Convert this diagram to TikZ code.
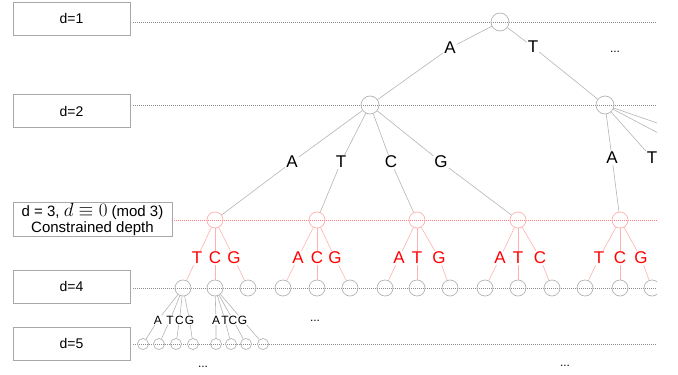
\documentclass[tikz,border=0pt]{standalone}
\usepackage{fix-cm}
\usepackage{fontspec}
\setmainfont{Liberation Sans}
\definecolor{boxgray}{HTML}{A8A8A8}
\definecolor{edgegray}{HTML}{B4B4B4}
\definecolor{dotgray}{HTML}{8C8C8C}
\definecolor{pinkline}{HTML}{FFB0B0}
\definecolor{reddot}{HTML}{FF7878}
\begin{document}
\begin{tikzpicture}[x=1pt,y=-1pt,
  lvlbox/.style={draw=boxgray, line width=0.7pt, minimum width=117pt, minimum height=33pt, inner sep=0pt, font=\fontsize{14}{16}\selectfont},
  depthline/.style={dotgray, line width=0.6pt, dash pattern=on 1pt off 1pt},
  redline/.style={reddot, line width=0.6pt, dash pattern=on 1pt off 1pt},
  tnode/.style={circle, draw=edgegray, line width=0.7pt, minimum size=#1, inner sep=0pt},
  rnode/.style={circle, draw=pinkline, line width=0.7pt, minimum size=16pt, inner sep=0pt},
  edge/.style={edgegray, line width=0.6pt},
  redge/.style={pinkline, line width=0.6pt},
  biglbl/.style={font=\fontsize{17}{17}\selectfont, inner sep=1pt},
  redlbl/.style={font=\fontsize{17}{17}\selectfont, inner sep=1pt, text=red},
  smalllbl/.style={font=\fontsize{12}{12}\selectfont, inner sep=0.3pt},
  dots/.style={font=\fontsize{12}{12}\selectfont, inner sep=0pt}
]
\useasboundingbox (0,0) rectangle (678,375);

% level boxes
\node[lvlbox] (b1) at (71.5,18.5) {d=1};
\node[lvlbox] (b2) at (71.5,111) {d=2};
\node[lvlbox, minimum width=159pt, minimum height=34pt, align=center, font=\fontsize{15}{16}\selectfont] (b3) at (92.5,219) {d = 3, {\fontsize{19}{19}\selectfont$d \equiv 0$} (mod 3)\\Constrained depth};
\node[lvlbox] (b4) at (71.5,286.5) {d=4};
\node[lvlbox] (b5) at (71.5,343.5) {d=5};

\coordinate (l1s) at (133,22);  \coordinate (l1e) at (657,22);
\coordinate (l2s) at (133,105); \coordinate (l2e) at (657,105);
\coordinate (l3s) at (174,220); \coordinate (l3e) at (657,220);
\coordinate (l4s) at (133,288); \coordinate (l4e) at (657,288);
\coordinate (l5s) at (133,344); \coordinate (l5e) at (657,344);
\draw[depthline] (l1s) -- (l1e);
\draw[depthline] (l2s) -- (l2e);
\draw[redline] (l3s) -- (l3e);
\draw[depthline] (l4s) -- (l4e);
\draw[depthline] (l5s) -- (l5e);

\begin{scope}
\clip (0,0) rectangle (657,375);
% level 1 and 2 nodes
\node[tnode=18pt] (r) at (500,22) {};
\node[tnode=18pt] (n1) at (370,105) {};
\node[tnode=18pt] (n2) at (605,105) {};
% level 3 nodes (constrained)
\node[rnode] (c1) at (215,220) {};
\node[rnode] (c2) at (317,220) {};
\node[rnode] (c3) at (417,220) {};
\node[rnode] (c4) at (518,220) {};
\node[rnode] (c5) at (620,220) {};
% level 4 nodes
\foreach \i/\x in {1/183,2/215,3/248,4/283,5/317,6/350,7/385,8/417,9/450,10/485,11/518,12/552,13/585,14/620,15/652}
  \node[tnode=16pt] (e\i) at (\x,288) {};
% level 5 nodes
\foreach \i/\x in {1/143,2/159,3/176,4/193,5/216,6/231,7/246,8/263}
  \node[tnode=11pt] (f\i) at (\x,344) {};

% root edges
\node[biglbl] (la) at (450,48) {A};
\node[biglbl] (lt) at (533,47) {T};
\draw[edge] (r) -- (la) -- (n1);
\draw[edge] (r) -- (lt) -- (n2);
\node[dots] (dd1) at (615,52) {...};

% level 2 edges
\node[biglbl] (m1) at (292,162) {A};
\node[biglbl] (m2) at (341,162) {T};
\node[biglbl] (m3) at (391,162) {C};
\node[biglbl] (m4) at (441,162) {G};
\draw[edge] (n1) -- (m1) -- (c1);
\draw[edge] (n1) -- (m2) -- (c2);
\draw[edge] (n1) -- (m3) -- (c3);
\draw[edge] (n1) -- (m4) -- (c4);
\node[biglbl] (m5) at (612,158) {A};
\node[biglbl] (m6) at (652,158) {T};
\draw[edge] (n2) -- (m5) -- (c5);
\draw[edge] (n2) -- (m6);
\coordinate (o1) at (660,124);
\coordinate (o2) at (660,134);
\draw[edge] (n2) -- (o1);
\draw[edge] (n2) -- (o2);

% level 3 -> level 4 (red)
\foreach \p/\a/\b/\c/\la/\lb/\lc/\xa/\xb/\xc in {
  1/1/2/3/T/C/G/197/215/234,
  2/4/5/6/A/C/G/298/317/335,
  3/7/8/9/A/T/G/399/417/439,
  4/10/11/12/A/T/C/500/518/540,
  5/13/14/15/T/C/G/599/620/641}{
  \node[redlbl] (q\p a) at (\xa,258) {\la};
  \node[redlbl] (q\p b) at (\xb,258) {\lb};
  \node[redlbl] (q\p c) at (\xc,258) {\lc};
  \draw[redge] (c\p) -- (q\p a) -- (e\a);
  \draw[redge] (c\p) -- (q\p b) -- (e\b);
  \draw[redge] (c\p) -- (q\p c) -- (e\c);
}

% level 4 -> level 5
\node[smalllbl] (s1) at (158,320) {A};
\node[smalllbl] (s2) at (170,320) {T};
\node[smalllbl] (s3) at (179.5,320) {C};
\node[smalllbl] (s4) at (189.5,320) {G};
\draw[edge] (e1) -- (s1) -- (f1);
\draw[edge] (e1) -- (s2) -- (f2);
\draw[edge] (e1) -- (s3) -- (f3);
\draw[edge] (e1) -- (s4) -- (f4);
\node[smalllbl] (s5) at (216,320) {A};
\node[smalllbl] (s6) at (225,320) {T};
\node[smalllbl] (s7) at (233,320) {C};
\node[smalllbl] (s8) at (242.5,320) {G};
\draw[edge] (e2) -- (s5) -- (f5);
\draw[edge] (e2) -- (s6) -- (f6);
\draw[edge] (e2) -- (s7) -- (f7);
\draw[edge] (e2) -- (s8) -- (f8);
\end{scope}

\node[dots] (dd2) at (315,321) {...};
\node[dots] (dd3) at (203,367) {...};
\node[dots] (dd4) at (565,366) {...};
\end{tikzpicture}
\end{document}
